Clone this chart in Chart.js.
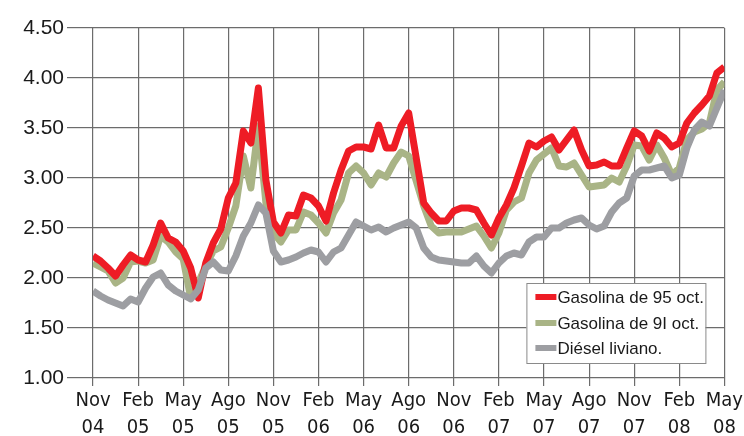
<!DOCTYPE html>
<html lang="es">
  <head>
    <meta charset="UTF-8" />
    <script src="https://cdn.jsdelivr.net/npm/chart.js"></script>
    <title>Precios combustibles</title>
    <style>
      html, body { margin: 0; padding: 0; background: #fff; }
      #wrap { width: 744px; height: 436px; }
    </style>
  </head>
  <body>
    <div id="wrap"><canvas id="chart" width="744" height="436"></canvas></div>

    <script>
      // tick labels, one every 3 months (Nov 04 .. May 08)
      const tickLabels = [
        ['Nov', '04'], ['Feb', '05'], ['May', '05'], ['Ago', '05'], ['Nov', '05'],
        ['Feb', '06'], ['May', '06'], ['Ago', '06'], ['Nov', '06'], ['Feb', '07'],
        ['May', '07'], ['Ago', '07'], ['Nov', '07'], ['Feb', '08'], ['May', '08'],
      ]

      const seriesNames = ['Gasolina de 95 oct.', 'Gasolina de 9I oct.', 'Diésel liviano.']

      // values every half month, starting Nov 04
      const gas95 = [
        2.22, 2.17, 2.10, 2.02, 2.13, 2.23, 2.18, 2.16, 2.33, 2.55, 2.40, 2.36,
        2.27, 2.10, 1.80, 2.15, 2.35, 2.49, 2.80, 2.95, 3.47, 3.35, 3.90, 2.98,
        2.56, 2.45, 2.63, 2.62, 2.83, 2.80, 2.72, 2.57, 2.85, 3.08, 3.27, 3.31,
        3.31, 3.29, 3.53, 3.30, 3.30, 3.52, 3.65, 3.20, 2.75, 2.65, 2.57, 2.57,
        2.67, 2.70, 2.70, 2.68, 2.55, 2.43, 2.60, 2.73, 2.90, 3.12, 3.35, 3.31,
        3.37, 3.41, 3.28, 3.38, 3.48, 3.28, 3.12, 3.13, 3.16, 3.12, 3.12, 3.30,
        3.47, 3.42, 3.27, 3.45, 3.40, 3.31, 3.35, 3.55, 3.65, 3.73, 3.82, 4.05,
        4.11,
      ]
      const gas91 = [
        2.15, 2.11, 2.07, 1.95, 2.00, 2.16, 2.17, 2.15, 2.18, 2.42, 2.36, 2.26,
        2.19, 1.80, 1.95, 2.12, 2.27, 2.31, 2.50, 2.72, 3.22, 2.90, 3.52, 2.75,
        2.45, 2.36, 2.48, 2.48, 2.66, 2.63, 2.55, 2.45, 2.65, 2.78, 3.05, 3.12,
        3.05, 2.93, 3.05, 3.01, 3.15, 3.26, 3.22, 2.97, 2.72, 2.52, 2.45, 2.46,
        2.46, 2.46, 2.49, 2.52, 2.42, 2.30, 2.45, 2.68, 2.76, 2.80, 3.05, 3.18,
        3.24, 3.30, 3.12, 3.11, 3.15, 3.03, 2.91, 2.92, 2.93, 3.00, 2.96, 3.12,
        3.33, 3.32, 3.18, 3.33, 3.20, 3.03, 3.10, 3.38, 3.46, 3.49, 3.55, 3.88,
        3.96,
      ]
      const diesel = [
        1.87, 1.82, 1.78, 1.75, 1.72, 1.79, 1.76, 1.90, 2.01, 2.05, 1.93, 1.87,
        1.83, 1.79, 1.88, 2.10, 2.16, 2.08, 2.07, 2.22, 2.42, 2.55, 2.73, 2.65,
        2.27, 2.16, 2.18, 2.21, 2.25, 2.28, 2.26, 2.16, 2.26, 2.30, 2.43, 2.56,
        2.52, 2.48, 2.51, 2.46, 2.50, 2.53, 2.56, 2.50, 2.30, 2.21, 2.18, 2.17,
        2.16, 2.15, 2.15, 2.22, 2.12, 2.05, 2.15, 2.22, 2.25, 2.23, 2.36, 2.41,
        2.41, 2.50, 2.50, 2.55, 2.58, 2.60, 2.53, 2.49, 2.52, 2.66, 2.75, 2.80,
        3.02, 3.08, 3.08, 3.10, 3.12, 3.00, 3.03, 3.30, 3.48, 3.56, 3.52, 3.70,
        3.88,
      ]

      const colors = ['#ee1c25', '#a9b486', '#9d9ea2']

      const toPoints = (arr) => arr.map((v, i) => ({ x: i * 0.5, y: v }))

      // legend box drawn inside the plot, lower right
      const boxLegend = {
        id: 'boxLegend',
        afterDraw(chart) {
          const { ctx, chartArea } = chart
          const w = 179
          const h = 80
          const x0 = chartArea.right - 19 - w
          const y0 = chartArea.bottom - 15 - h
          ctx.save()
          ctx.fillStyle = '#fff'
          ctx.fillRect(x0, y0, w, h)
          ctx.strokeStyle = '#8a8a8a'
          ctx.lineWidth = 1
          ctx.strokeRect(x0 + 0.5, y0 + 0.5, w, h)
          ctx.font = '17px "Liberation Sans", Arial, sans-serif'
          ctx.textBaseline = 'middle'
          ctx.fillStyle = '#1a1a1a'
          const rows = [14, 40, 65]
          seriesNames.forEach((name, i) => {
            const y = y0 + rows[i]
            ctx.strokeStyle = colors[i]
            ctx.lineWidth = 6
            ctx.lineCap = 'butt'
            ctx.beginPath()
            ctx.moveTo(x0 + 9, y)
            ctx.lineTo(x0 + 30, y)
            ctx.stroke()
            ctx.fillText(name, x0 + 31, y + 1)
          })
          ctx.restore()
        },
      }

      const ctx = document.getElementById('chart').getContext('2d')
      new Chart(ctx, {
        type: 'line',
        data: {
          datasets: [
            { label: seriesNames[0], data: toPoints(gas95), borderColor: colors[0], order: 1 },
            { label: seriesNames[1], data: toPoints(gas91), borderColor: colors[1], order: 2 },
            { label: seriesNames[2], data: toPoints(diesel), borderColor: colors[2], order: 0 },
          ],
        },
        options: {
          responsive: false,
          animation: false,
          layout: { padding: { top: 28, right: 18, left: 0, bottom: 0 } },
          elements: {
            line: { borderWidth: 7, tension: 0, borderJoinStyle: 'round', borderCapStyle: 'butt' },
            point: { radius: 0 },
          },
          plugins: {
            legend: { display: false },
            tooltip: { enabled: false },
          },
          scales: {
            x: {
              type: 'linear',
              min: 0,
              max: 42,
              afterBuildTicks: (scale) => {
                scale.ticks = tickLabels.map((_, i) => ({ value: i * 3 }))
              },
              afterFit: (scale) => { scale.height = 58 },
              border: { display: false },
              grid: { color: '#6c6c6c', lineWidth: 1.2, tickLength: 8 },
              ticks: {
                maxRotation: 0,
                autoSkip: false,
                padding: 1,
                color: '#1a1a1a',
                font: { family: '"Liberation Sans Narrow", "DejaVu Sans Condensed", sans-serif', size: 20, lineHeight: 1.35 },
                callback: (v) => tickLabels[Math.round(v / 3)],
              },
            },
            y: {
              min: 1,
              max: 4.5,
              afterFit: (scale) => { scale.width = 93 },
              border: { display: false },
              grid: { color: '#6c6c6c', lineWidth: 1.2, tickLength: 26 },
              ticks: {
                stepSize: 0.5,
                padding: 3,
                color: '#1a1a1a',
                font: { family: '"Liberation Sans", Arial, sans-serif', size: 21 },
                callback: (v) => v.toFixed(2),
              },
            },
          },
        },
        plugins: [boxLegend],
      })
    </script>
  </body>
</html>
